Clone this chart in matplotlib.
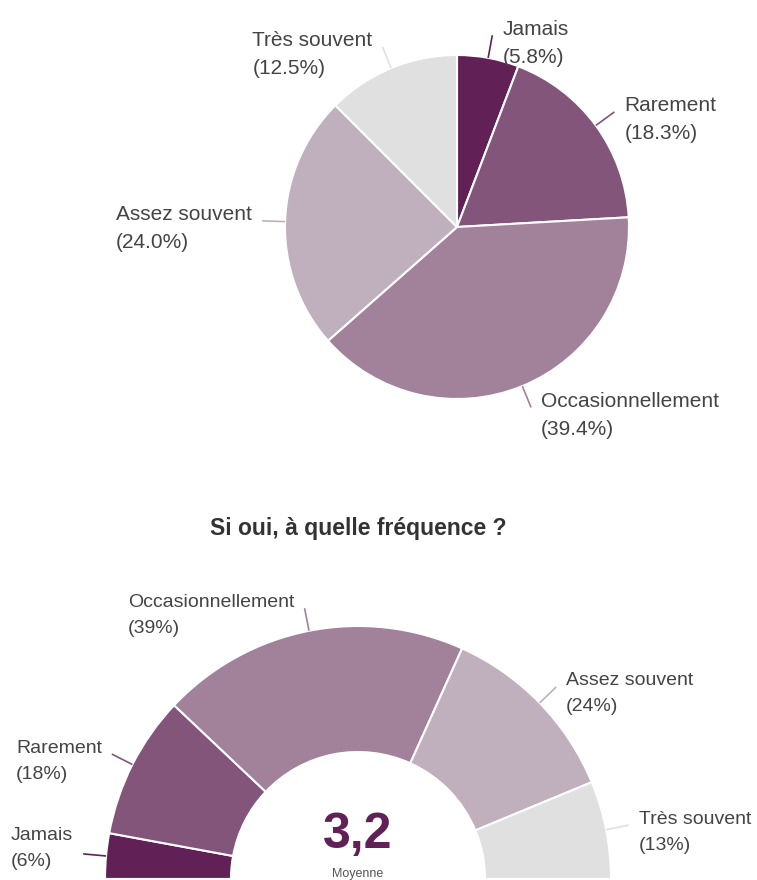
import numpy as np
import matplotlib.pyplot as plt

plt.rcParams['font.family'] = ['Liberation Sans', 'DejaVu Sans']

# Données
categories = ['Jamais', 'Rarement', 'Occasionnellement', 'Assez souvent', 'Très souvent']
pourcentages = [5.8, 18.3, 39.4, 24.0, 12.5]
couleurs = ['#612157', '#83557a', '#a2819b', '#c0afbd', '#e0e0e0']
moyenne = 3.2
titre = 'Si oui, à quelle fréquence ?'

W, H = 757, 880
GRIS_TEXTE = '#444444'

fig = plt.figure(figsize=(W / 100, H / 100), dpi=100)
ax = fig.add_axes([0, 0, 1, 1])


def etiquette(cx, cy, r, angle, txt1, txt2, couleur, fs, ecart, ymin=None):
    """Trait de rappel + étiquette sur deux lignes alignées à gauche"""
    a = np.deg2rad(angle)
    x0, y0 = cx + r * np.cos(a), cy + r * np.sin(a)
    x1, y1 = cx + (r + 23) * np.cos(a), cy + (r + 23) * np.sin(a)
    ax.plot([x0, x1], [y0, y1], color=couleur, lw=1.2, solid_capstyle='butt')
    cote = 1 if np.cos(a) >= 0 else -1
    ty = y1 + 6
    if ymin is not None:
        ty = max(ty, ymin)
    t1 = ax.text(x1 + cote * 10, ty, txt1, ha='left' if cote > 0 else 'right',
                 va='center', fontsize=fs, color=GRIS_TEXTE)
    xg = x1 + cote * 10
    if cote < 0:
        bb = t1.get_window_extent(renderer=fig.canvas.get_renderer())
        xg = ax.transData.inverted().transform((bb.x0, bb.y0))[0]
    ax.text(xg, ty - ecart, txt2, ha='left', va='center', fontsize=fs, color=GRIS_TEXTE)


# --- Camembert du haut ---
cx1, cy1, r1 = 457, H - 227, 172
ax.pie(pourcentages, colors=couleurs, startangle=90, counterclock=False,
       radius=r1, center=(cx1, cy1),
       wedgeprops=dict(edgecolor='white', linewidth=1.5))

# --- Demi-anneau du bas ---
cx2, cy2, r2 = 358, 1, 253
ax.pie(pourcentages + [sum(pourcentages)], colors=couleurs + ['none'],
       startangle=180, counterclock=False, radius=r2, center=(cx2, cy2),
       wedgeprops=dict(width=126, edgecolor='white', linewidth=1.5))

# limites en pixels (avant de mesurer les textes)
ax.set_xlim(0, W)
ax.set_ylim(0, H)
ax.set_aspect('equal')
ax.axis('off')

cumul = 0
for cat, p, c in zip(categories, pourcentages, couleurs):
    mil = 90 - 360 * (cumul + p / 2) / 100
    etiquette(cx1, cy1, r1, mil, cat, f'({p:.1f}%)', c, 15, 28)
    cumul += p

ax.text(358, H - 529, titre, ha='center', va='center', fontsize=16.5,
        fontweight='bold', color='#333333')

cumul = 0
for cat, p, c in zip(categories, pourcentages, couleurs):
    mil = 180 - 180 * (cumul + p / 2) / 100
    etiquette(cx2, cy2, r2, mil, cat, f'({int(p + 0.5)}%)', c, 14, 26, ymin=44)
    cumul += p

ax.text(cx2, 32, f'{moyenne:.1f}'.replace('.', ','), ha='center', va='baseline',
        fontsize=36, fontweight='bold', color='#612157')
ax.text(cx2, 6, 'Moyenne', ha='center', va='center', fontsize=9, color='#555555')

fig.savefig('out.png', dpi=100)
